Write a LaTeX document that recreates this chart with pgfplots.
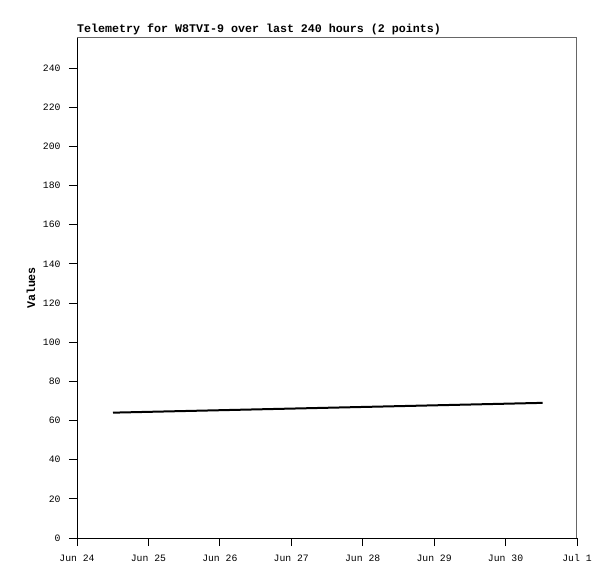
\documentclass[border=0pt]{standalone}
\usepackage{fontspec}
\setmainfont{Liberation Mono}
\usepackage{pgfplots}
\pgfplotsset{compat=1.18}
\begin{document}
\begin{tikzpicture}
\path[use as bounding box] (-77bp,-41bp) rectangle (538bp,538bp);
\begin{axis}[
  at={(0,0)}, anchor=south west,
  scale only axis, width=500bp, height=500bp,
  xmin=0, xmax=7, ymin=0, ymax=255.3,
  axis x line*=bottom, axis y line*=left,
  axis line style={black, line width=1bp, -},
  xtick={0,1,2,3,4,5,6,7},
  xticklabels={Jun 24, Jun 25, Jun 26, Jun 27, Jun 28, Jun 29, Jun 30, Jul 1},
  ytick={0,20,...,240},
  tick align=outside, major tick length=8bp,
  tick style={black, line width=0.8bp},
  tick label style={font=\fontsize{9.8}{10}\selectfont},
  xticklabel style={yshift=-5bp},
  yticklabel style={xshift=-5bp},
  /pgf/number format/assume math mode=true,
  ylabel={Values},
  ylabel style={at={([xshift=-46bp]axis description cs:0,0.5)}, anchor=center, font=\bfseries\fontsize{11.7}{12}\selectfont},
  clip=false,
]
\addplot[black, line width=2bp] coordinates {(0.504,64.0) (6.52,69.0)};
\draw[black!60, line width=1bp] (rel axis cs:0,1) -- (rel axis cs:1,1) -- (rel axis cs:1,0);
\node[anchor=base west, inner sep=0pt, font=\bfseries\fontsize{11.7}{12}\selectfont] at ([yshift=5bp]rel axis cs:0,1) {Telemetry for W8TVI-9 over last 240 hours (2 points)};
\end{axis}
\end{tikzpicture}
\end{document}
